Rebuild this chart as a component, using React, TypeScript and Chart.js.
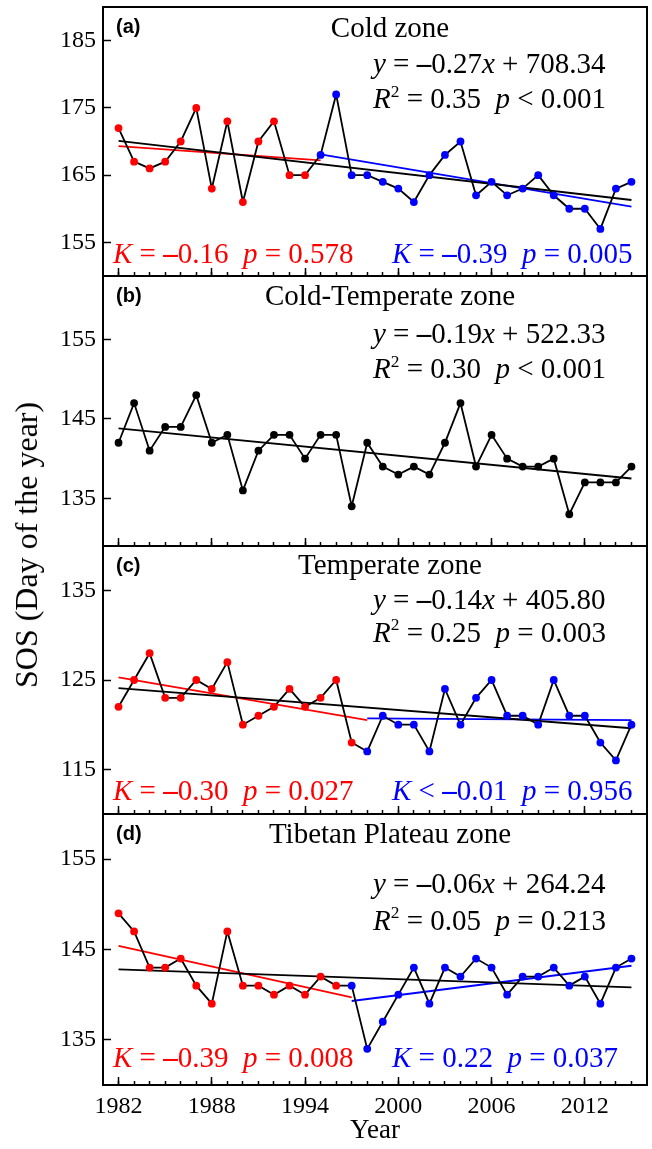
import React, { useEffect, useRef } from 'react';
import { Chart, registerables } from 'chart.js';

Chart.register(...registerables);

// ---------- data ----------
const years = [1982, 1983, 1984, 1985, 1986, 1987, 1988, 1989, 1990, 1991, 1992, 1993, 1994, 1995, 1996, 1997, 1998, 1999, 2000, 2001, 2002, 2003, 2004, 2005, 2006, 2007, 2008, 2009, 2010, 2011, 2012, 2013, 2014, 2015];
const majorYears = [1982, 1988, 1994, 2000, 2006, 2012];

const coldZone = [172, 167, 166, 167, 170, 175, 163, 173, 161, 170, 173, 165, 165, 168, 177, 165, 165, 164, 163, 161, 165, 168, 170, 162, 164, 162, 163, 165, 162, 160, 160, 157, 163, 164];
const coldTemperateZone = [142, 147, 141, 144, 144, 148, 142, 143, 136, 141, 143, 143, 140, 143, 143, 134, 142, 139, 138, 139, 138, 142, 147, 139, 143, 140, 139, 139, 140, 133, 137, 137, 137, 139];
const temperateZone = [122, 125, 128, 123, 123, 125, 124, 127, 120, 121, 122, 124, 122, 123, 125, 118, 117, 121, 120, 120, 117, 124, 120, 123, 125, 121, 121, 120, 125, 121, 121, 118, 116, 120];
const tibetanZone = [149, 147, 143, 143, 144, 141, 139, 147, 141, 141, 140, 141, 140, 142, 141, 141, 134, 137, 140, 143, 139, 143, 142, 144, 143, 140, 142, 142, 143, 141, 142, 139, 143, 144];

const coldTicks = [155, 165, 175, 185];
const coldTemperateTicks = [135, 145, 155];
const temperateTicks = [115, 125, 135];
const tibetanTicks = [135, 145, 155];

// first year of the second (blue) period
const coldBreakYear = 1995;
const temperateBreakYear = 1998;
const tibetanBreakYear = 1997;

// trend lines: [start year, end year] and [start value, end value]
const coldFitYears = [1982, 2015];
const coldFit = [170.1, 161.3];
const coldRedYears = [1982, 1995];
const coldRed = [169.3, 167.2];
const coldBlueYears = [1995, 2015];
const coldBlue = [168.1, 160.3];

const coldTemperateFitYears = [1982, 2015];
const coldTemperateFit = [143.8, 137.5];

const temperateFitYears = [1982, 2015];
const temperateFit = [124.1, 119.6];
const temperateRedYears = [1982, 1998];
const temperateRed = [125.3, 120.5];
const temperateBlueYears = [1998, 2015];
const temperateBlue = [120.7, 120.5];

const tibetanFitYears = [1982, 2015];
const tibetanFit = [142.8, 140.8];
const tibetanRedYears = [1982, 1997];
const tibetanRed = [145.4, 139.7];
const tibetanBlueYears = [1997, 2015];
const tibetanBlue = [139.3, 143.2];

// ---------- styles ----------
const SERIF = '"Liberation Serif", "Times New Roman", Times, serif';
const SANS = '"Liberation Sans", Arial, Helvetica, sans-serif';
const RED = '#ff0000';
const BLUE = '#0000ff';
const BLACK = '#000000';
const W = 652;
const PLOT_LEFT = 103;
const PLOT_RIGHT = 647;
const TXT = 29;

type Seg = { t: string; i?: boolean; b?: boolean; sup?: boolean };
type TextItem = { segs: Seg[]; x: number; dy: number; from: 'top' | 'bottom'; align: 'left' | 'center'; color: string; size: number; sans?: boolean };

interface Panel {
  values: number[];
  yMin: number;
  yMax: number;
  yTicks: number[];
  breakYear: number | null;
  lines: { years: number[]; vals: number[]; color: string }[];
  texts: TextItem[];
  canvasTop: number;
  canvasH: number;
  padTop: number;
  padBottom: number;
  last: boolean;
}

const label = (s: string, dy: number): TextItem => ({ segs: [{ t: s, b: true }], x: 116, dy, from: 'top', align: 'left', color: BLACK, size: 20, sans: true });
const title = (s: string, dy: number): TextItem => ({ segs: [{ t: s }], x: 390, dy, from: 'top', align: 'center', color: BLACK, size: TXT });
const line = (segs: Seg[], dy: number): TextItem => ({ segs, x: 373, dy, from: 'top', align: 'left', color: BLACK, size: TXT });
const kText = (segs: Seg[], x: number, dy: number, color: string): TextItem => ({ segs, x, dy, from: 'bottom', align: 'left', color, size: TXT });

const panels: Panel[] = [
  {
    values: coldZone, yMin: 150, yMax: 190, yTicks: coldTicks, breakYear: coldBreakYear,
    lines: [
      { years: coldFitYears, vals: coldFit, color: BLACK },
      { years: coldRedYears, vals: coldRed, color: RED },
      { years: coldBlueYears, vals: coldBlue, color: BLUE },
    ],
    texts: [
      label('(a)', 25.5),
      title('Cold zone', 29.5),
      line([{ t: 'y', i: true }, { t: ' = ' }, { t: '–', b: true }, { t: '0.27' }, { t: 'x', i: true }, { t: ' + 708.34' }], 65.7),
      line([{ t: 'R', i: true }, { t: '2', sup: true }, { t: ' = 0.35  ' }, { t: 'p', i: true }, { t: ' < 0.001' }], 101.3),
      kText([{ t: 'K', i: true }, { t: ' = ' }, { t: '–', b: true }, { t: '0.16  ' }, { t: 'p', i: true }, { t: ' = 0.578' }], 113, 12.7, RED),
      kText([{ t: 'K', i: true }, { t: ' = ' }, { t: '–', b: true }, { t: '0.39  ' }, { t: 'p', i: true }, { t: ' = 0.005' }], 392, 12.7, BLUE),
    ],
    canvasTop: 0, canvasH: 282, padTop: 7, padBottom: 6, last: false,
  },
  {
    values: coldTemperateZone, yMin: 129, yMax: 163, yTicks: coldTemperateTicks, breakYear: null,
    lines: [{ years: coldTemperateFitYears, vals: coldTemperateFit, color: BLACK }],
    texts: [
      label('(b)', 25.5),
      title('Cold-Temperate zone', 29),
      line([{ t: 'y', i: true }, { t: ' = ' }, { t: '–', b: true }, { t: '0.19' }, { t: 'x', i: true }, { t: ' + 522.33' }], 67.3),
      line([{ t: 'R', i: true }, { t: '2', sup: true }, { t: ' = 0.30  ' }, { t: 'p', i: true }, { t: ' < 0.001' }], 102.3),
    ],
    canvasTop: 266, canvasH: 290, padTop: 10, padBottom: 10, last: false,
  },
  {
    values: temperateZone, yMin: 110, yMax: 140, yTicks: temperateTicks, breakYear: temperateBreakYear,
    lines: [
      { years: temperateFitYears, vals: temperateFit, color: BLACK },
      { years: temperateRedYears, vals: temperateRed, color: RED },
      { years: temperateBlueYears, vals: temperateBlue, color: BLUE },
    ],
    texts: [
      label('(c)', 25.5),
      title('Temperate zone', 28),
      line([{ t: 'y', i: true }, { t: ' = ' }, { t: '–', b: true }, { t: '0.14' }, { t: 'x', i: true }, { t: ' + 405.80' }], 62.6),
      line([{ t: 'R', i: true }, { t: '2', sup: true }, { t: ' = 0.25  ' }, { t: 'p', i: true }, { t: ' = 0.003' }], 96),
      kText([{ t: 'K', i: true }, { t: ' = ' }, { t: '–', b: true }, { t: '0.30  ' }, { t: 'p', i: true }, { t: ' = 0.027' }], 113, 14, RED),
      kText([{ t: 'K', i: true }, { t: ' < ' }, { t: '–', b: true }, { t: '0.01  ' }, { t: 'p', i: true }, { t: ' = 0.956' }], 392, 14, BLUE),
    ],
    canvasTop: 536, canvasH: 288, padTop: 10, padBottom: 10, last: false,
  },
  {
    values: tibetanZone, yMin: 130, yMax: 160, yTicks: tibetanTicks, breakYear: tibetanBreakYear,
    lines: [
      { years: tibetanFitYears, vals: tibetanFit, color: BLACK },
      { years: tibetanRedYears, vals: tibetanRed, color: RED },
      { years: tibetanBlueYears, vals: tibetanBlue, color: BLUE },
    ],
    texts: [
      label('(d)', 25.5),
      title('Tibetan Plateau zone', 29.3),
      line([{ t: 'y', i: true }, { t: ' = ' }, { t: '–', b: true }, { t: '0.06' }, { t: 'x', i: true }, { t: ' + 264.24' }], 79.3),
      line([{ t: 'R', i: true }, { t: '2', sup: true }, { t: ' = 0.05  ' }, { t: 'p', i: true }, { t: ' = 0.213' }], 116),
      kText([{ t: 'K', i: true }, { t: ' = ' }, { t: '–', b: true }, { t: '0.39  ' }, { t: 'p', i: true }, { t: ' = 0.008' }], 113, 18.3, RED),
      kText([{ t: 'K', i: true }, { t: ' = 0.22  ' }, { t: 'p', i: true }, { t: ' = 0.037' }], 392, 18.3, BLUE),
    ],
    canvasTop: 804, canvasH: 345, padTop: 10, padBottom: 0, last: true,
  },
];

function segFont(s: Seg, item: TextItem) {
  const size = s.sup ? item.size * 0.6 : item.size;
  return `${s.i ? 'italic ' : ''}${s.b ? 'bold ' : ''}${size}px ${item.sans ? SANS : SERIF}`;
}

function drawRich(ctx: CanvasRenderingContext2D, item: TextItem, y: number) {
  ctx.save();
  ctx.textBaseline = 'alphabetic';
  ctx.textAlign = 'left';
  ctx.fillStyle = item.color;
  const widths = item.segs.map((s) => {
    ctx.font = segFont(s, item);
    return ctx.measureText(s.t).width;
  });
  const total = widths.reduce((a, b) => a + b, 0);
  let x = item.align === 'center' ? item.x - total / 2 : item.x;
  item.segs.forEach((s, i) => {
    ctx.font = segFont(s, item);
    ctx.fillText(s.t, x, s.sup ? y - item.size * 0.4 : y);
    x += widths[i];
  });
  ctx.restore();
}

const zeroPad = (s: any) => {
  s.paddingTop = 0;
  s.paddingBottom = 0;
  s.paddingLeft = 0;
  s.paddingRight = 0;
};

function buildChart(canvas: HTMLCanvasElement, p: Panel) {
  const colors = years.map((yr) => (p.breakYear == null ? BLACK : yr < p.breakYear ? RED : BLUE));
  const datasets: any[] = [
    {
      data: years.map((yr, i) => ({ x: yr, y: p.values[i] })),
      borderColor: BLACK,
      borderWidth: 1.8,
      pointRadius: 3.9,
      pointBackgroundColor: colors,
      pointBorderColor: colors,
      pointBorderWidth: 0,
      tension: 0,
      order: 0,
    },
    ...p.lines.map((l) => ({
      data: l.years.map((yr, i) => ({ x: yr, y: l.vals[i] })),
      borderColor: l.color,
      borderWidth: 1.8,
      pointRadius: 0,
      tension: 0,
      order: 1,
    })),
  ];

  const tickFont = { family: SERIF, size: 24 };

  const panelPlugin = {
    id: 'panelDecor',
    afterDraw(chart: any) {
      const { ctx, chartArea } = chart;
      ctx.save();
      ctx.strokeStyle = BLACK;
      ctx.lineWidth = 2;
      ctx.strokeRect(chartArea.left, chartArea.top, chartArea.right - chartArea.left, chartArea.bottom - chartArea.top);
      ctx.restore();
      for (const item of p.texts) {
        const y = item.from === 'top' ? chartArea.top + item.dy : chartArea.bottom - item.dy;
        drawRich(ctx, item, y);
      }
    },
  };

  return new Chart(canvas, {
    type: 'line',
    data: { datasets },
    options: {
      animation: false,
      responsive: false,
      maintainAspectRatio: false,
      devicePixelRatio: 1,
      layout: { padding: { top: p.padTop, bottom: p.padBottom, left: 0, right: W - PLOT_RIGHT } },
      plugins: { legend: { display: false }, tooltip: { enabled: false }, title: { display: false } },
      scales: {
        // yearly minor ticks, closest to the plot
        x: {
          type: 'linear',
          position: 'bottom',
          weight: 0,
          min: 1981,
          max: 2016,
          afterBuildTicks: (s: any) => {
            s.ticks = years.map((v) => ({ value: v }));
          },
          afterFit: (s: any) => {
            s.height = 0;
            zeroPad(s);
          },
          ticks: { display: false, autoSkip: false },
          grid: { drawOnChartArea: false, drawTicks: true, tickLength: -4, tickColor: BLACK, tickWidth: 1.5 },
          border: { display: false },
        } as any,
        // labelled major ticks every six years
        xMajor: {
          type: 'linear',
          axis: 'x',
          position: 'bottom',
          weight: 1,
          min: 1981,
          max: 2016,
          afterBuildTicks: (s: any) => {
            s.ticks = majorYears.map((v) => ({ value: v }));
          },
          afterFit: (s: any) => {
            s.height = p.last ? 64 : 0;
            zeroPad(s);
          },
          ticks: {
            display: p.last,
            autoSkip: false,
            maxRotation: 0,
            padding: 15,
            color: BLACK,
            font: tickFont,
            callback: (v: any) => String(v),
          },
          grid: { drawOnChartArea: false, drawTicks: true, tickLength: -8, tickColor: BLACK, tickWidth: 1.5 },
          border: { display: false },
          title: p.last
            ? { display: true, text: 'Year', color: BLACK, font: { family: SERIF, size: 27 }, padding: { top: 0, bottom: 2 } }
            : { display: false },
        } as any,
        y: {
          type: 'linear',
          position: 'left',
          min: p.yMin,
          max: p.yMax,
          afterBuildTicks: (s: any) => {
            s.ticks = p.yTicks.map((v) => ({ value: v }));
          },
          afterFit: (s: any) => {
            s.width = PLOT_LEFT;
            zeroPad(s);
          },
          ticks: { padding: 15, color: BLACK, font: tickFont, callback: (v: any) => String(v) },
          grid: { drawOnChartArea: false, drawTicks: true, tickLength: -8, tickColor: BLACK, tickWidth: 1.5 },
          border: { display: false },
        } as any,
      },
    },
    plugins: [panelPlugin],
  } as any);
}

export default function App() {
  const r0 = useRef<HTMLCanvasElement>(null);
  const r1 = useRef<HTMLCanvasElement>(null);
  const r2 = useRef<HTMLCanvasElement>(null);
  const r3 = useRef<HTMLCanvasElement>(null);
  const refs = [r0, r1, r2, r3];

  useEffect(() => {
    const charts = panels.map((p, i) => buildChart(refs[i].current as HTMLCanvasElement, p));
    return () => charts.forEach((c) => c.destroy());
  }, []);

  return (
    <div style={{ position: 'absolute', left: 0, top: 0, width: W, height: 1149, background: '#fff', overflow: 'hidden' }}>
      {panels.map((p, i) => (
        <canvas
          key={i}
          ref={refs[i]}
          width={W}
          height={p.canvasH}
          style={{ position: 'absolute', left: 0, top: p.canvasTop, width: W, height: p.canvasH }}
        />
      ))}
      <div
        style={{
          position: 'absolute',
          left: 26,
          top: 545,
          transform: 'translate(-50%, -50%) rotate(-90deg)',
          whiteSpace: 'nowrap',
          fontFamily: SERIF,
          fontSize: 32,
          color: BLACK,
          lineHeight: 1,
        }}
      >
        SOS (Day of the year)
      </div>
    </div>
  );
}
